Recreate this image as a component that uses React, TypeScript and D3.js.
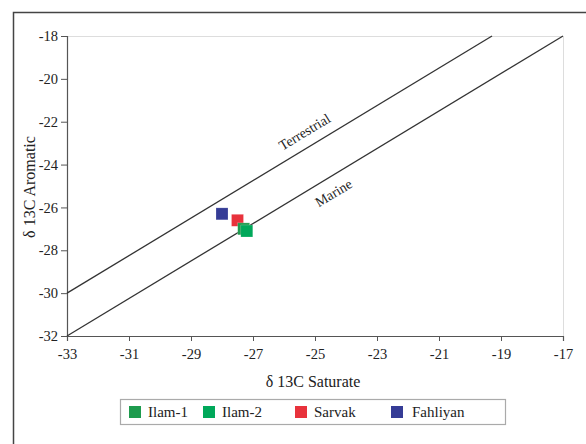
import { useRef, useEffect } from "react";
import * as d3 from "d3";

const xTicks = [-33, -31, -29, -27, -25, -23, -21, -19, -17];
const yTicks = [-18, -20, -22, -24, -26, -28, -30, -32];

const sampleNames = ["Ilam-1", "Ilam-2", "Sarvak", "Fahliyan"];
const saturate = [-27.3, -27.2, -27.5, -28.0];
const aromatic = [-27.0, -27.1, -26.6, -26.3];
const colors = ["#1e9b4e", "#00a85a", "#e8323c", "#353c96"];
const legendX = [129, 203, 295, 391];

// boundary lines: [x1, y1, x2, y2] in data units
const terrestrialLine = [-33, -30, -19.29, -18];
const marineLine = [-33, -32, -17, -18];

const font = "'Times New Roman', 'Liberation Serif', Times, serif";

function App() {
  const svgRef = useRef<SVGSVGElement>(null);

  useEffect(() => {
    const svg = d3.select(svgRef.current);
    svg.selectAll("*").remove();

    const x = d3.scaleLinear().domain([-33, -17]).range([67, 563]);
    const y = d3.scaleLinear().domain([-32, -18]).range([336, 36]);

    // outer frame
    svg.append("path")
      .attr("d", "M13.5,450 L13.5,12.5 L590,12.5")
      .attr("fill", "none")
      .attr("stroke", "#444")
      .attr("stroke-width", 1.5);

    // light plot frame (top/right)
    svg.append("path")
      .attr("d", `M${x(-33)},${y(-18) + 0.5} L${x(-17) + 0.5},${y(-18) + 0.5} L${x(-17) + 0.5},${y(-32)}`)
      .attr("fill", "none")
      .attr("stroke", "#ddd")
      .attr("stroke-width", 1);

    const xAxis = d3.axisBottom(x).tickValues(xTicks).tickSize(5).tickPadding(8).tickFormat((d) => `${d}`);
    const gx = svg.append("g").attr("transform", `translate(0,${y(-32)})`).call(xAxis);

    const yAxis = d3.axisLeft(y).tickValues(yTicks).tickSize(6).tickPadding(3).tickFormat((d) => `${d}`);
    const gy = svg.append("g").attr("transform", `translate(${x(-33)},0)`).call(yAxis);

    [gx, gy].forEach((g) => {
      g.attr("font-family", null).attr("font-size", 14.5);
      g.select(".domain").attr("stroke", "#555").attr("stroke-width", 1.2);
      g.selectAll(".tick line").attr("stroke", "#555");
      g.selectAll(".tick text").attr("fill", "#222");
    });

    // classification lines
    [terrestrialLine, marineLine].forEach((l) => {
      svg.append("line")
        .attr("x1", x(l[0]))
        .attr("y1", y(l[1]))
        .attr("x2", x(l[2]))
        .attr("y2", y(l[3]))
        .attr("stroke", "#333")
        .attr("stroke-width", 1.3);
    });

    const angle = (Math.atan2(y(-18) - y(-32), x(-17) - x(-33)) * 180) / Math.PI;
    svg.append("text")
      .attr("transform", `translate(307,136) rotate(${angle})`)
      .attr("text-anchor", "middle")
      .attr("font-size", 14)
      .attr("fill", "#222")
      .text("Terrestrial");
    svg.append("text")
      .attr("transform", `translate(336,197) rotate(${angle})`)
      .attr("text-anchor", "middle")
      .attr("font-size", 14)
      .attr("fill", "#222")
      .text("Marine");

    // samples
    const pts = sampleNames.map((name, i) => ({ name, sx: saturate[i], ay: aromatic[i], c: colors[i] }));
    const drawOrder = [3, 2, 0, 1];
    svg.selectAll(".pt")
      .data(drawOrder.map((i) => pts[i]))
      .join("rect")
      .attr("class", "pt")
      .attr("x", (d) => x(d.sx) - 6)
      .attr("y", (d) => y(d.ay) - 6)
      .attr("width", 12)
      .attr("height", 12)
      .attr("fill", (d) => d.c)
      .attr("stroke", "#fff")
      .attr("stroke-opacity", 0.4)
      .attr("stroke-width", 0.5);

    // axis titles
    svg.append("text")
      .attr("x", 313)
      .attr("y", 387)
      .attr("text-anchor", "middle")
      .attr("font-size", 16)
      .attr("fill", "#222")
      .text("δ 13C Saturate");
    svg.append("text")
      .attr("transform", "translate(35,187) rotate(-90)")
      .attr("text-anchor", "middle")
      .attr("font-size", 16)
      .attr("fill", "#222")
      .text("δ 13C Aromatic");

    // legend
    svg.append("rect")
      .attr("x", 120.5)
      .attr("y", 399.5)
      .attr("width", 385)
      .attr("height", 25)
      .attr("fill", "#fff")
      .attr("stroke", "#aaa")
      .attr("stroke-width", 1.2);
    const lg = svg.selectAll(".lg")
      .data(pts)
      .join("g")
      .attr("class", "lg")
      .attr("transform", (_, i) => `translate(${legendX[i]},412)`);
    lg.append("rect")
      .attr("x", 0)
      .attr("y", -6)
      .attr("width", 12)
      .attr("height", 12)
      .attr("fill", (d) => d.c);
    lg.append("text")
      .attr("x", (_, i) => (i === 3 ? 21 : 19))
      .attr("y", 5)
      .attr("font-size", 15)
      .attr("fill", "#222")
      .text((d) => d.name);
  }, []);

  return (
    <svg
      ref={svgRef}
      width={586}
      height={444}
      fontFamily={font}
      style={{ position: "absolute", left: 0, top: 0, background: "#fff" }}
    />
  );
}

export default App;
